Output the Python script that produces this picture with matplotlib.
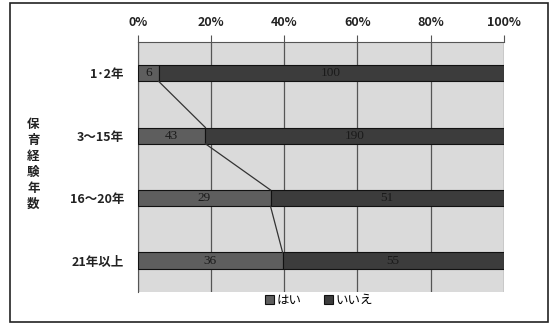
import matplotlib
matplotlib.use("Agg")
import matplotlib.pyplot as plt
from matplotlib.patches import Rectangle
import numpy as np

plt.rcParams['font.family'] = ['Noto Sans CJK JP', 'DejaVu Sans']

categories = ["1･2年", "3〜15年", "16〜20年", "21年以上"]
yes_counts = [6, 43, 29, 36]
no_counts = [100, 190, 51, 55]
series_names = ["はい", "いいえ"]
tick_labels = ["0%", "20%", "40%", "60%", "80%", "100%"]

yes = np.array(yes_counts, dtype=float)
no = np.array(no_counts, dtype=float)
total = yes + no
yes_pct = yes / total * 100
no_pct = no / total * 100

fig = plt.figure(figsize=(5.56, 3.25), dpi=100)
ax = fig.add_axes([0.248, 0.102, 0.658, 0.769])

ypos = np.arange(len(categories))
bar_h = 0.26
yes_color = "#5e5e5e"
no_color = "#3c3c3c"

ax.set_facecolor("#dadada")
ax.barh(ypos, yes_pct, height=bar_h, color=yes_color, edgecolor="#111111",
        linewidth=0.8, zorder=3, label=series_names[0])
ax.barh(ypos, no_pct, left=yes_pct, height=bar_h, color=no_color,
        edgecolor="#111111", linewidth=0.8, zorder=3, label=series_names[1])

# series lines joining the segment boundaries of neighbouring bars
for i in range(len(categories) - 1):
    ax.plot([yes_pct[i], yes_pct[i + 1]],
            [ypos[i] + bar_h / 2, ypos[i + 1] - bar_h / 2],
            color="#333333", linewidth=0.9, zorder=4)

# value labels
for i in range(len(categories)):
    ax.text(yes_pct[i] / 2, ypos[i], str(yes_counts[i]), ha="center", va="center",
            fontsize=9.5, family="Liberation Serif", color="#1a1a1a", zorder=5)
    ax.text(yes_pct[i] + no_pct[i] / 2, ypos[i], str(no_counts[i]), ha="center",
            va="center", fontsize=9.5, family="Liberation Serif", color="#1a1a1a", zorder=5)

ax.set_xlim(0, 100)
ax.set_ylim(len(categories) - 0.5, -0.5)
ax.set_xticks(np.linspace(0, 100, 6))
ax.set_xticklabels(tick_labels)
ax.xaxis.tick_top()
ax.tick_params(axis="x", direction="out", length=5, width=0.8, color="#555555",
               labelsize=9, pad=4, labelcolor="#222222")
for lab in ax.get_xticklabels():
    lab.set_fontweight("bold")
ax.set_yticks(ypos)
ax.set_yticklabels(categories, fontsize=9, fontweight="bold", color="#222222")
ax.tick_params(axis="y", length=0, pad=10)

ax.grid(axis="x", color="#555555", linewidth=0.9, zorder=1)
ax.set_axisbelow(True)
for side in ["right", "bottom"]:
    ax.spines[side].set_visible(False)
ax.spines["top"].set_color("#555555")
ax.spines["left"].set_color("#555555")

# vertical axis title, one character per line
fig.text(0.06, 0.495, "\n".join("保育経験年数"), ha="center", va="center",
         fontsize=9, fontweight="bold", linespacing=1.3, color="#222222")

handles, labels = ax.get_legend_handles_labels()
fig.legend(handles, labels, loc="center", bbox_to_anchor=(0.574, 0.075), ncol=2,
           frameon=False, fontsize=9, handlelength=0.7, handleheight=0.7,
           handletextpad=0.2, columnspacing=1.8)

# outer frame
fig.patches.append(Rectangle((0.018, 0.01), 0.968, 0.98, transform=fig.transFigure,
                             fill=False, edgecolor="#222222", linewidth=1.2))

fig.savefig("out.png", dpi=100, facecolor="white")
